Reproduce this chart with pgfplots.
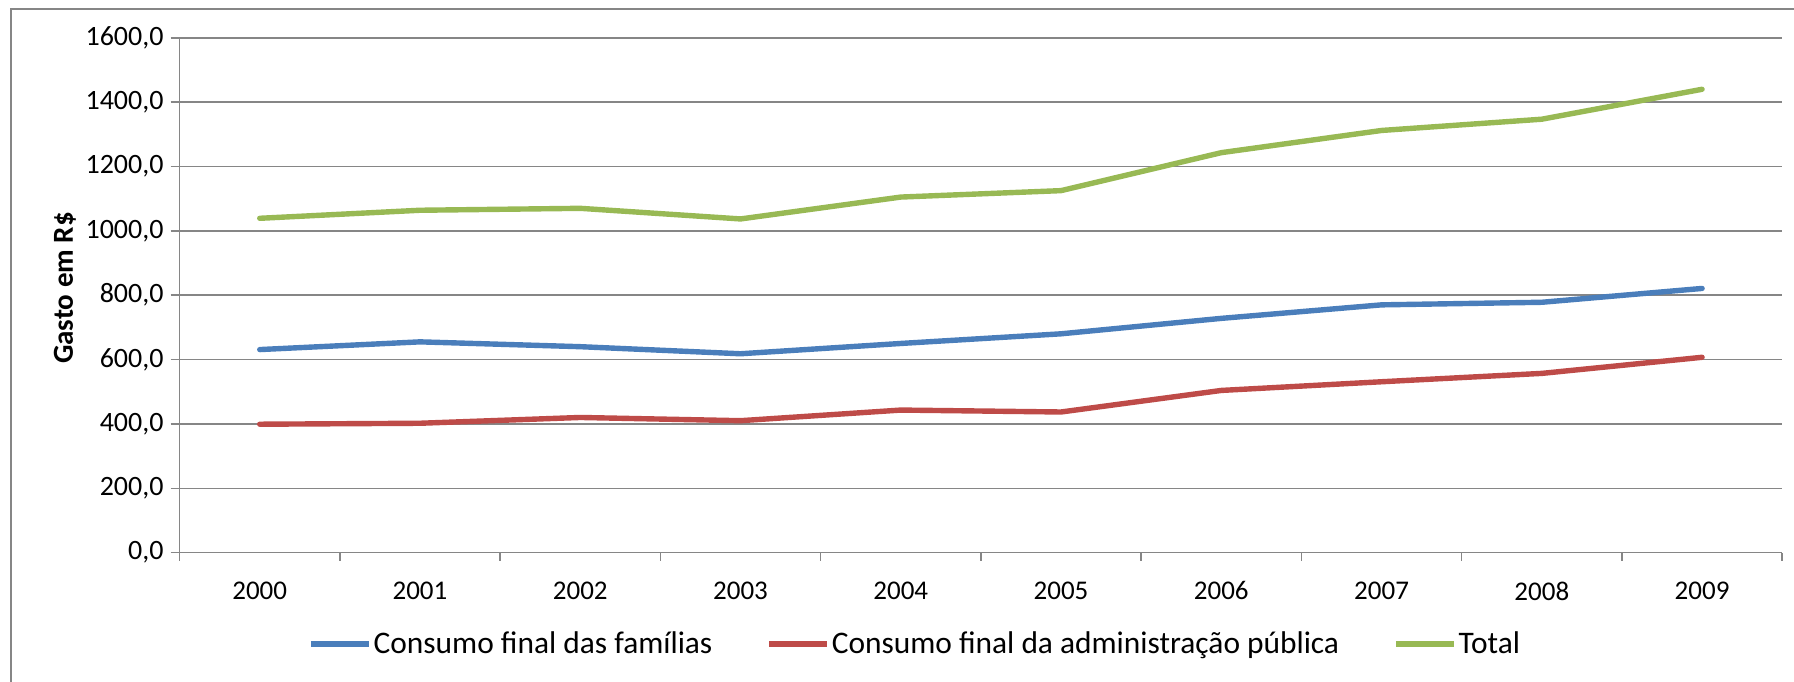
\documentclass[border=0pt]{standalone}
\usepackage{fontspec}
\setmainfont{Carlito}
\usepackage{pgfplots}
\pgfplotsset{compat=1.18}
\definecolor{cblue}{HTML}{4A7EBB}
\definecolor{cred}{HTML}{BE4B48}
\definecolor{cgreen}{HTML}{98B954}
\definecolor{cgrid}{HTML}{868686}
\begin{document}
\begin{tikzpicture}
\begin{axis}[
  scale only axis, width=801.3pt, height=257.4pt,
  xmin=-0.5, xmax=9.5, ymin=0, ymax=1600,
  axis lines*=left,
  axis line style={cgrid, line width=0.75pt},
  xtick={0,...,9},
  xticklabels={2000,2001,2002,2003,2004,2005,2006,2007,2008,2009},
  major x tick style={draw=none},
  minor xtick={-0.5,0.5,...,9.5},
  ytick={0,200,...,1600},
  ymajorgrids, grid style={cgrid, line width=0.75pt},
  tick align=outside,
  major tick length=4.5pt, minor tick length=4pt,
  tick style={cgrid, line width=0.75pt},
  scaled y ticks=false,
  /pgf/number format/assume math mode=true,
  yticklabel style={/pgf/number format/fixed, /pgf/number format/fixed zerofill, /pgf/number format/precision=1, /pgf/number format/use comma, /pgf/number format/1000 sep={}, font=\fontsize{14}{16}\selectfont},
  xticklabel style={yshift=-6.5pt},
  tick label style={font=\fontsize{13.5}{16}\selectfont, black},
  ylabel={Gasto em R\$},
  every axis y label/.style={at={(axis description cs:-0.0715,0.514)}, rotate=90, anchor=center, font=\fontsize{14.5}{17}\selectfont\bfseries},
  legend style={at={(axis description cs:0.459,-0.1775)}, anchor=center, draw=none, fill=none, legend columns=-1, font=\fontsize{15.7}{18}\selectfont, nodes={inner xsep=1pt}, /tikz/every even column/.append style={column sep=26pt}},
  legend image code/.code={\draw[#1, line cap=butt] (0pt,0pt) -- (29pt,0pt);},
  every axis plot/.append style={line width=2.7pt, line join=round, line cap=round, mark=none},
]
\addplot[cblue] coordinates {(0,631) (1,655) (2,640) (3,618) (4,650) (5,680) (6,728) (7,770) (8,778) (9,821)};
\addlegendentry{Consumo final das famílias}
\addplot[cred] coordinates {(0,399) (1,402) (2,420) (3,410) (4,443) (5,437) (6,504) (7,531) (8,557) (9,607)};
\addlegendentry{Consumo final da administração pública}
\addplot[cgreen] coordinates {(0,1039) (1,1064) (2,1070) (3,1037) (4,1105) (5,1125) (6,1243) (7,1312) (8,1347) (9,1440)};
\addlegendentry{Total}
\end{axis}
\draw[cgrid, line width=0.75pt] (-84.3pt,-80pt) rectangle (820pt,271.8pt);
\pgfresetboundingbox
\useasboundingbox (-89.8pt,-64.2pt) rectangle (807.2pt,276.3pt);
\end{tikzpicture}
\end{document}
